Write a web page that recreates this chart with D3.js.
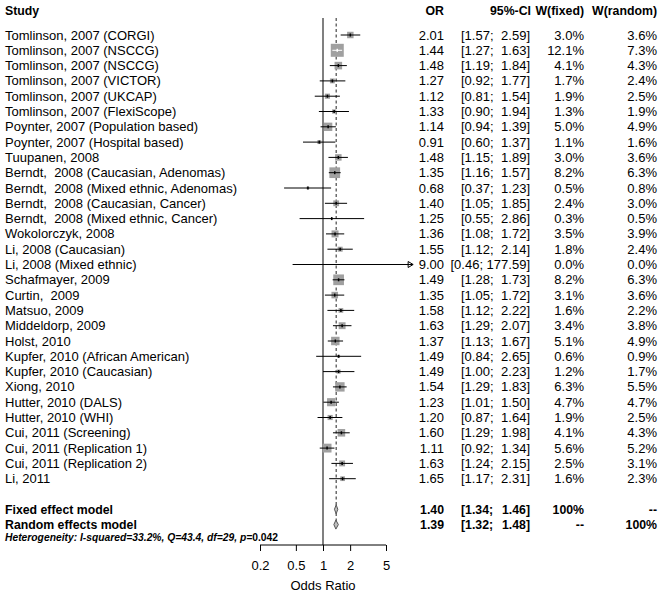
<!DOCTYPE html>
<html><head><meta charset="utf-8">
<script src="https://cdn.jsdelivr.net/npm/d3@7"></script>
<style>
body{margin:0;background:#fff}
text{font-family:"Liberation Sans",Arial,sans-serif;white-space:pre}
</style></head>
<body><svg id="c" width="662" height="594"></svg>
<script>
const studies = ["Tomlinson, 2007 (CORGI)","Tomlinson, 2007 (NSCCG)","Tomlinson, 2007 (NSCCG)","Tomlinson, 2007 (VICTOR)","Tomlinson, 2007 (UKCAP)","Tomlinson, 2007 (FlexiScope)","Poynter, 2007 (Population based)","Poynter, 2007 (Hospital based)","Tuupanen, 2008","Berndt,  2008 (Caucasian, Adenomas)","Berndt,  2008 (Mixed ethnic, Adenomas)","Berndt,  2008 (Caucasian, Cancer)","Berndt,  2008 (Mixed ethnic, Cancer)","Wokolorczyk, 2008","Li, 2008 (Caucasian)","Li, 2008 (Mixed ethnic)","Schafmayer, 2009","Curtin,  2009","Matsuo, 2009","Middeldorp, 2009","Holst, 2010","Kupfer, 2010 (African American)","Kupfer, 2010 (Caucasian)","Xiong, 2010","Hutter, 2010 (DALS)","Hutter, 2010 (WHI)","Cui, 2011 (Screening)","Cui, 2011 (Replication 1)","Cui, 2011 (Replication 2)","Li, 2011"];
const orVals = [2.01,1.44,1.48,1.27,1.12,1.33,1.14,0.91,1.48,1.35,0.68,1.40,1.25,1.36,1.55,9.00,1.49,1.35,1.58,1.63,1.37,1.49,1.49,1.54,1.23,1.20,1.60,1.11,1.63,1.65];
const lower = [1.57,1.27,1.19,0.92,0.81,0.90,0.94,0.60,1.15,1.16,0.37,1.05,0.55,1.08,1.12,0.46,1.28,1.05,1.12,1.29,1.13,0.84,1.00,1.29,1.01,0.87,1.29,0.92,1.24,1.17];
const upper = [2.59,1.63,1.84,1.77,1.54,1.94,1.39,1.37,1.89,1.57,1.23,1.85,2.86,1.72,2.14,177.59,1.73,1.72,2.22,2.07,1.67,2.65,2.23,1.83,1.50,1.64,1.98,1.34,2.15,2.31];
const wFixed = [3.0,12.1,4.1,1.7,1.9,1.3,5.0,1.1,3.0,8.2,0.5,2.4,0.3,3.5,1.8,0.0,8.2,3.1,1.6,3.4,5.1,0.6,1.2,6.3,4.7,1.9,4.1,5.6,2.5,1.6];
const wRandom = [3.6,7.3,4.3,2.4,2.5,1.9,4.9,1.6,3.6,6.3,0.8,3.0,0.5,3.9,2.4,0.0,6.3,3.6,2.2,3.8,4.9,0.9,1.7,5.5,4.7,2.5,4.3,5.2,3.1,2.3];
const summaryLabels = ["Fixed effect model","Random effects model"];
const summaryOR = [1.40,1.39];
const summaryLower = [1.34,1.32];
const summaryUpper = [1.46,1.48];
const summaryWFixed = ["100%","--"];
const summaryWRandom = ["--","100%"];
const ticks = [0.2,0.5,1,2,5];
const xClip = 10;

const FS = 13, FSB = 12.3;
const svg = d3.select("#c");
const x = d3.scaleLog().domain([0.2,5]).range([260,386]);
const row = d3.scaleLinear().domain([0,1]).range([35,50.3]);
const fmt = d3.format(".2f");
const maxW = d3.max(wFixed);
const boxSide = w => 13*Math.sqrt(w/maxW);

// header
const hdr = svg.append("g").attr("font-weight","bold").attr("font-size",FSB);
hdr.append("text").attr("x",5).attr("y",15).text("Study");
hdr.append("text").attr("x",444).attr("y",15).attr("text-anchor","end").text("OR");
hdr.append("text").attr("x",531).attr("y",15).attr("text-anchor","end").text("95%-CI");
hdr.append("text").attr("x",584).attr("y",15).attr("text-anchor","end").text("W(fixed)");
hdr.append("text").attr("x",657).attr("y",15).attr("text-anchor","end").text("W(random)");

// reference lines
const yTop = 18, yAxis = 545;
svg.append("line").attr("x1",x(1)).attr("x2",x(1)).attr("y1",yTop).attr("y2",yAxis)
  .attr("stroke","#808080").attr("stroke-width",2);
svg.append("line").attr("x1",x(summaryOR[0])).attr("x2",x(summaryOR[0])).attr("y1",yTop).attr("y2",row(32)+3)
  .attr("stroke","#222").attr("stroke-width",1).attr("stroke-dasharray","3,2.5");

// study rows
studies.forEach((s,i)=>{
  const y = row(i);
  const g = svg.append("g").attr("font-size",FS);
  g.append("text").attr("x",5).attr("y",y+4.5).text(s);
  g.append("text").attr("x",444).attr("y",y+4.5).attr("text-anchor","end").text(fmt(orVals[i]));
  const up = fmt(upper[i]);
  if (up.length > 4) {
    g.append("text").attr("x",530).attr("y",y+4.5).attr("text-anchor","end").text("["+fmt(lower[i])+"; "+up+"]");
  } else {
    g.append("text").attr("x",461).attr("y",y+4.5).text("["+fmt(lower[i])+";");
    g.append("text").attr("x",530).attr("y",y+4.5).attr("text-anchor","end").text(up+"]");
  }
  g.append("text").attr("x",584).attr("y",y+4.5).attr("text-anchor","end").text(wFixed[i].toFixed(1)+"%");
  g.append("text").attr("x",657).attr("y",y+4.5).attr("text-anchor","end").text(wRandom[i].toFixed(1)+"%");

  // box
  const side = boxSide(wFixed[i]);
  const cx = x(Math.min(orVals[i], xClip));
  if (side > 0) {
    svg.append("rect").attr("x",cx-side/2).attr("y",y-side/2).attr("width",side).attr("height",side)
      .attr("fill","#a0a0a0");
  }
  const x1 = x(lower[i]), x2 = x(Math.min(upper[i], xClip));
  const inside = side > 0 && x1 >= cx-side/2 && x2 <= cx+side/2;
  const lc = inside ? "#fff" : "#000";
  svg.append("line").attr("x1",x1).attr("x2",x2).attr("y1",y).attr("y2",y).attr("stroke",lc).attr("stroke-width",1);
  if (upper[i] > xClip) {
    svg.append("path").attr("d",`M${x2-5},${y-3}L${x2},${y}L${x2-5},${y+3}Z`)
      .attr("fill","none").attr("stroke","#000").attr("stroke-width",1);
  }
  if (side > 0) {
    svg.append("line").attr("x1",cx).attr("x2",cx).attr("y1",y-1.5).attr("y2",y+1.5).attr("stroke",lc).attr("stroke-width",1.5);
  }
});

// summary rows
summaryLabels.forEach((s,j)=>{
  const y = row(31+j);
  const g = svg.append("g").attr("font-size",FSB).attr("font-weight","bold");
  g.append("text").attr("x",5).attr("y",y+4.5).text(s);
  g.append("text").attr("x",444).attr("y",y+4.5).attr("text-anchor","end").text(fmt(summaryOR[j]));
  g.append("text").attr("x",461).attr("y",y+4.5).text("["+fmt(summaryLower[j])+";");
  g.append("text").attr("x",530).attr("y",y+4.5).attr("text-anchor","end").text(fmt(summaryUpper[j])+"]");
  g.append("text").attr("x",584).attr("y",y+4.5).attr("text-anchor","end").text(summaryWFixed[j]);
  g.append("text").attr("x",657).attr("y",y+4.5).attr("text-anchor","end").text(summaryWRandom[j]);
  const xl = x(summaryLower[j]), xu = x(summaryUpper[j]), xm = x(summaryOR[j]);
  svg.append("path").attr("d",`M${xl},${y}L${xm},${y-4.5}L${xu},${y}L${xm},${y+4.5}Z`)
    .attr("fill","#c0c0c0").attr("stroke","#555").attr("stroke-width",1);
});

// heterogeneity
const het = svg.append("text").attr("x",5).attr("y",540.5).attr("font-size",10.3)
  .attr("font-weight","bold").attr("font-style","italic");
het.append("tspan").text("Heterogeneity: I-squared=33.2%, Q=43.4, df=29, p=");
het.append("tspan").attr("font-style","normal").text("0.042");

// axis
const axis = d3.axisBottom(x).tickValues(ticks).tickFormat(d=>String(d)).tickSize(6).tickPadding(10);
const ax = svg.append("g").attr("transform",`translate(0,${yAxis})`).call(axis);
ax.select(".domain").attr("d",`M${x(ticks[0])},0H${x(ticks[ticks.length-1])}`).attr("stroke","#000");
ax.selectAll(".tick line").attr("stroke","#000");
ax.selectAll(".tick text").attr("font-size",FS).attr("font-family","Liberation Sans, Arial, sans-serif").attr("fill","#000");
svg.append("text").attr("x",x(1)).attr("y",590).attr("text-anchor","middle").attr("font-size",FS).text("Odds Ratio");
</script></body></html>
